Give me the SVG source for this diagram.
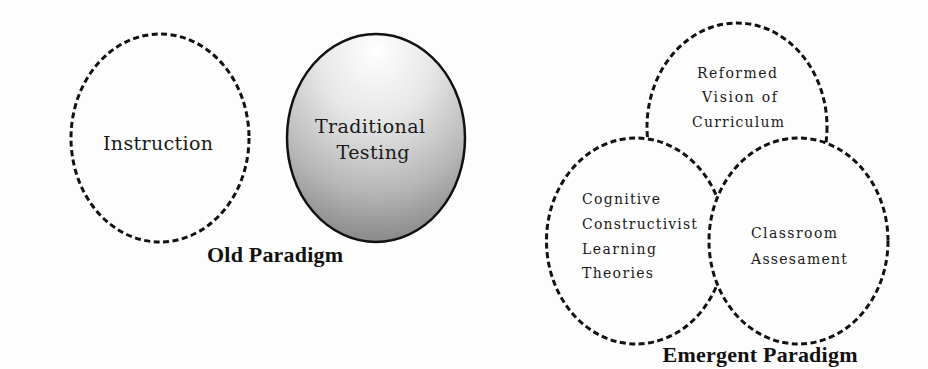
<svg xmlns="http://www.w3.org/2000/svg" width="928" height="369" viewBox="0 0 928 369">
  <defs>
    <radialGradient id="testingFill" cx="50%" cy="10%" r="95%" fx="50%" fy="8%">
      <stop offset="0" stop-color="#ffffff"/>
      <stop offset="0.35" stop-color="#e6e6e6"/>
      <stop offset="0.7" stop-color="#b6b6b6"/>
      <stop offset="1" stop-color="#808080"/>
    </radialGradient>
    <style>
      .dashed { fill: none; stroke: #111; stroke-width: 3; stroke-dasharray: 6 3.5; }
      .opaque { fill: #fdfdfd; }
      .solid { stroke: #111; stroke-width: 2.5; }
      .label { font-family: "DejaVu Serif", "Liberation Serif", serif; fill: #1a1a1a; }
      .big { font-size: 19px; }
      .small { font-size: 14px; }
      .title { font-family: "Liberation Serif", "Times New Roman", serif; font-weight: bold; font-size: 22px; fill: #111; }
    </style>
  </defs>

  <rect x="0" y="0" width="928" height="369" fill="#fdfdfd"/>

  <!-- Old paradigm -->
  <g id="instruction">
    <ellipse class="dashed" cx="160" cy="138" rx="89" ry="104"/>
    <text class="label big" x="158" y="150" text-anchor="middle" textLength="110" lengthAdjust="spacing">Instruction</text>
  </g>

  <g id="traditional-testing">
    <ellipse class="solid" cx="376" cy="138" rx="89" ry="104" fill="url(#testingFill)"/>
    <text class="label big" x="370" y="133" text-anchor="middle" textLength="110" lengthAdjust="spacing">Traditional</text>
    <text class="label big" x="373" y="159" text-anchor="middle" textLength="73" lengthAdjust="spacing">Testing</text>
  </g>

  <g id="old-paradigm-title">
    <text class="title" x="275" y="262" text-anchor="middle" textLength="136" lengthAdjust="spacing">Old Paradigm</text>
  </g>

  <!-- Emergent paradigm: later circles are filled and cover the earlier outlines -->
  <g id="reformed-vision">
    <ellipse class="dashed" cx="737" cy="127" rx="90" ry="104"/>
    <text class="label small" x="697" y="78" textLength="80" lengthAdjust="spacing">Reformed</text>
    <text class="label small" x="702" y="102" textLength="75" lengthAdjust="spacing">Vision of</text>
    <text class="label small" x="692" y="127" textLength="92" lengthAdjust="spacing">Curriculum</text>
  </g>

  <g id="cognitive-constructivist">
    <ellipse class="dashed opaque" cx="636" cy="241" rx="89.5" ry="103"/>
    <text class="label small" x="582" y="204" textLength="78" lengthAdjust="spacing">Cognitive</text>
    <text class="label small" x="582" y="229" textLength="115" lengthAdjust="spacing">Constructivist</text>
    <text class="label small" x="582" y="254" textLength="74" lengthAdjust="spacing">Learning</text>
    <text class="label small" x="582" y="278" textLength="71" lengthAdjust="spacing">Theories</text>
  </g>

  <g id="classroom-assessment">
    <ellipse class="dashed opaque" cx="798.5" cy="241" rx="89.5" ry="103"/>
    <text class="label small" x="751" y="238" textLength="86" lengthAdjust="spacing">Classroom</text>
    <text class="label small" x="751" y="264" textLength="96" lengthAdjust="spacing">Assesament</text>
  </g>

  <g id="emergent-paradigm-title">
    <text class="title" x="760" y="362" text-anchor="middle" textLength="195" lengthAdjust="spacing">Emergent Paradigm</text>
  </g>

  <g id="connectors"/>
</svg>
